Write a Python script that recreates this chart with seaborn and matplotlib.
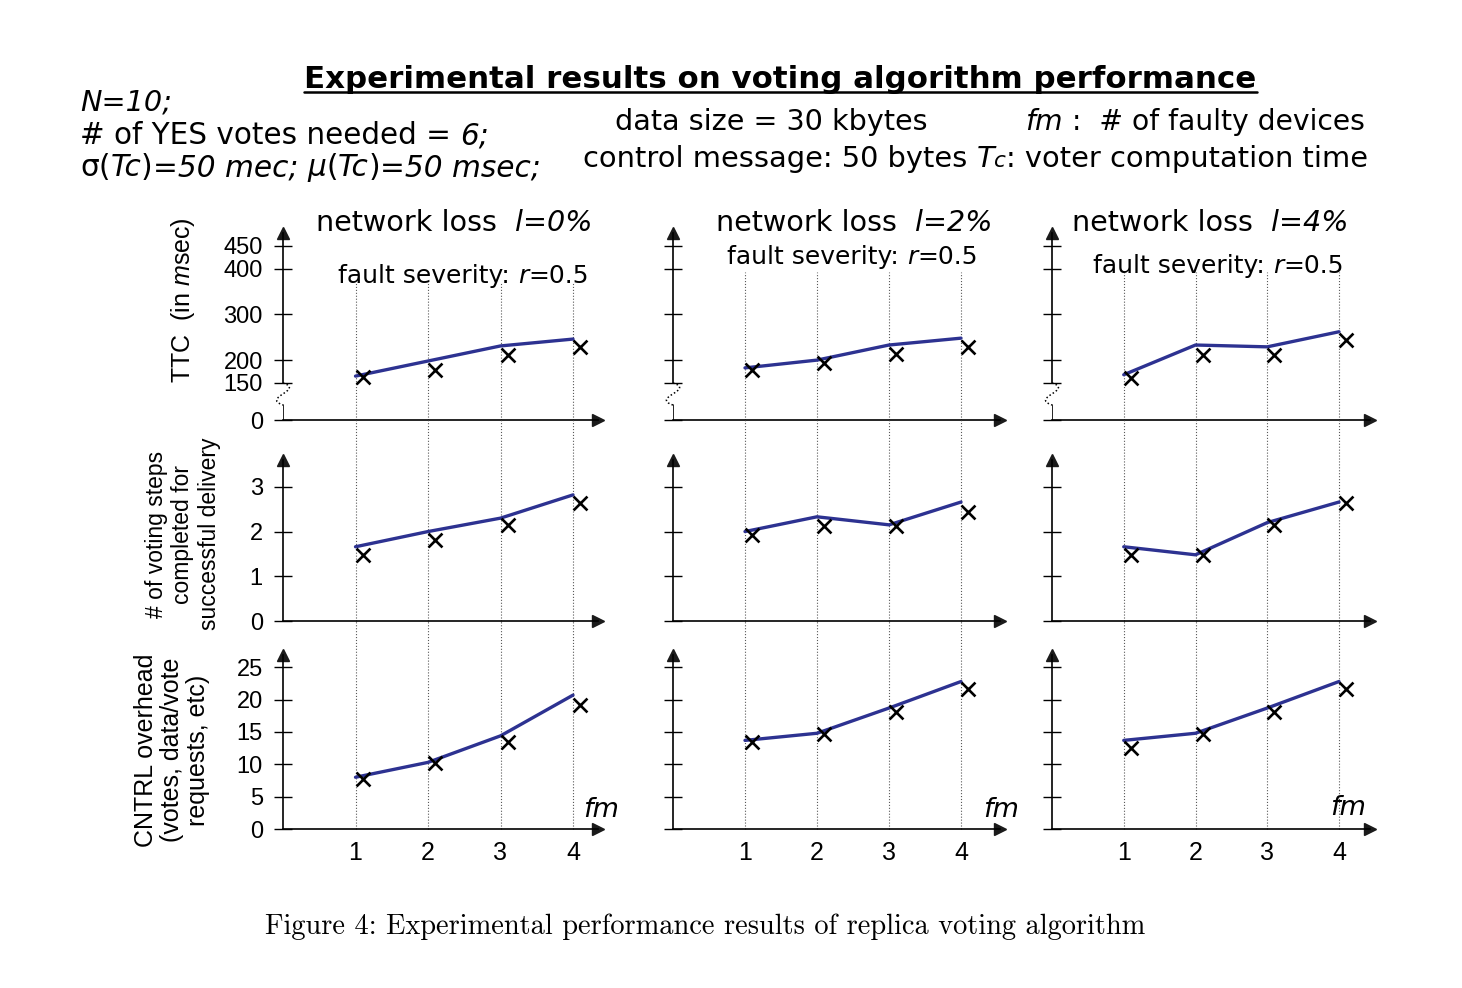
import matplotlib
matplotlib.use('Agg')
import matplotlib.pyplot as plt
import seaborn as sns
from matplotlib.lines import Line2D
from matplotlib.path import Path
from matplotlib.patches import PathPatch

# ---- data ----
fm = [1, 2, 3, 4]
fm_marks = [1.1, 2.1, 3.1, 4.1]
losses = ['0%', '2%', '4%']

# TTC (msec): smooth curve values and 'x' measurements, per network loss
ttc_curve_l0 = [165, 198, 231, 246]
ttc_curve_l2 = [183, 200, 233, 248]
ttc_curve_l4 = [168, 233, 229, 262]
ttc_x_l0 = [163, 178, 211, 229]
ttc_x_l2 = [178, 194, 213, 229]
ttc_x_l4 = [161, 211, 211, 244]

# voting steps completed
steps_curve_l0 = [1.66, 2.0, 2.3, 2.82]
steps_curve_l2 = [2.0, 2.33, 2.15, 2.66]
steps_curve_l4 = [1.66, 1.48, 2.2, 2.66]
steps_x_l0 = [1.48, 1.81, 2.15, 2.64]
steps_x_l2 = [1.93, 2.13, 2.13, 2.44]
steps_x_l4 = [1.48, 1.48, 2.15, 2.64]

# control overhead
cntrl_curve_l0 = [8.0, 10.3, 14.4, 20.7]
cntrl_curve_l2 = [13.7, 14.8, 18.7, 22.8]
cntrl_curve_l4 = [13.7, 14.8, 18.7, 22.8]
cntrl_x_l0 = [7.7, 10.2, 13.4, 19.1]
cntrl_x_l2 = [13.4, 14.7, 18.1, 21.6]
cntrl_x_l4 = [12.5, 14.7, 18.1, 21.6]

ttc_ticks = [150, 200, 300, 400, 450]
steps_ticks = [0, 1, 2, 3]
cntrl_ticks = [0, 5, 10, 15, 20, 25]

rows = [
    dict(curves=[ttc_curve_l0, ttc_curve_l2, ttc_curve_l4],
         marks=[ttc_x_l0, ttc_x_l2, ttc_x_l4], ticks=ttc_ticks),
    dict(curves=[steps_curve_l0, steps_curve_l2, steps_curve_l4],
         marks=[steps_x_l0, steps_x_l2, steps_x_l4], ticks=steps_ticks),
    dict(curves=[cntrl_curve_l0, cntrl_curve_l2, cntrl_curve_l4],
         marks=[cntrl_x_l0, cntrl_x_l2, cntrl_x_l4], ticks=cntrl_ticks),
]

# ---- style ----
sns.set_theme(style='white')
plt.rcParams['font.family'] = ['Liberation Sans', 'DejaVu Sans']
plt.rcParams['mathtext.fontset'] = 'custom'
plt.rcParams['mathtext.rm'] = 'Liberation Sans'
plt.rcParams['mathtext.it'] = 'Liberation Sans:italic'
for key in ['text.color', 'axes.labelcolor', 'xtick.color', 'ytick.color']:
    plt.rcParams[key] = 'black'

NAVY = '#2d3291'
HEAD_FONT = 'DejaVu Sans'
W, H = 1462, 988
fig = plt.figure(figsize=(W / 100, H / 100), dpi=100)
renderer = fig.canvas.get_renderer()


def fx(x):
    return x / W


def fy(y):
    return 1 - y / H


def text_w(s, **kw):
    t = fig.text(0, 0, s, **kw)
    w = t.get_window_extent(renderer).width
    t.remove()
    return w


def _draw(x, y, parts, size, family, weight):
    cx = x
    out = []
    for part in parts:
        s, style = part[0], part[1]
        sz = size * (part[2] if len(part) > 2 else 1)
        kw = dict(fontsize=sz, style=style, family=family, weight=weight)
        sp = text_w('x x', **kw) - text_w('xx', **kw)
        lead = len(s) - len(s.lstrip(' '))
        trail = len(s) - len(s.rstrip(' '))
        cx += lead * sp
        core = s.strip(' ')
        if core:
            t = fig.text(fx(cx), fy(y), core, va='baseline', ha='left', **kw)
            out.append(t)
            cx += t.get_window_extent(renderer).width
        cx += trail * sp
    return out, cx - x


def put(x, y, parts, target, family=HEAD_FONT, weight='normal'):
    """Mixed-style text, left edge x, baseline y (px from top), scaled to span `target` px."""
    texts, w = _draw(x, y, parts, 18, family, weight)
    for t in texts:
        t.remove()
    texts, w = _draw(x, y, parts, 18 * target / w, family, weight)
    return texts


# ---- axes layout (reference pixels) ----
col_left = [283, 673, 1052]
col_right = [598, 1000, 1370]
col_unit = [72.5, 72, 71.75]
row_top = [233, 460, 655]
row_bot = [420, 621, 829]
row_ylim = [(69, 478), (0, 3.6), (0, 26.9)]
grid_top = [[0.733, 0.79, 0.79], [1.248] * 3, [1.195] * 3]

for r, row in enumerate(rows):
    for c in range(3):
        ax = fig.add_axes([fx(col_left[c]), fy(row_bot[r]),
                           fx(col_right[c] - col_left[c]),
                           (row_bot[r] - row_top[r]) / H])
        ax.set_xlim(0, (col_right[c] - col_left[c]) / col_unit[c])
        ax.set_ylim(*row_ylim[r])
        ax.patch.set_alpha(0)

        for x in fm:
            ax.axvline(x, ymin=0, ymax=grid_top[r][c], ls=':', color='0.35',
                       lw=0.8, clip_on=False, zorder=0)

        sns.lineplot(x=fm, y=row['curves'][c], ax=ax, color=NAVY, linewidth=2.4)
        sns.scatterplot(x=fm_marks, y=row['marks'][c], ax=ax, marker='x', s=100,
                        color='black', linewidth=1.9, zorder=5)

        for side in ['top', 'right']:
            ax.spines[side].set_visible(False)
        for side in ['left', 'bottom']:
            ax.spines[side].set_color('black')
            ax.spines[side].set_linewidth(1.2)
        ax.plot(1, 0, '>k', ms=9, transform=ax.transAxes, clip_on=False)
        ax.plot(0, 1, '^k', ms=9, transform=ax.transAxes, clip_on=False)

        if r == 0:
            # broken axis between 150 and 0
            ax.spines['left'].set_bounds(150, row_ylim[0][1])
            ax.axvline(0, ymin=0, ymax=0.08, color='black', lw=1.2)
            verts = [(0, 0.198), (0.07, 0.16), (-0.07, 0.12), (0, 0.08)]
            ax.add_patch(PathPatch(Path(verts, [Path.MOVETO, Path.CURVE4, Path.CURVE4, Path.CURVE4]),
                                   transform=ax.transAxes, fill=False, edgecolor='black',
                                   ls=(0, (1, 1.5)), lw=1.1, clip_on=False))
            ax.set_yticks([row_ylim[0][0]] + row['ticks'])
            ax.set_yticklabels(['0'] + [str(t) for t in row['ticks']])
        else:
            ax.set_yticks(row['ticks'])
            ax.set_yticklabels([str(t) for t in row['ticks']])

        ax.tick_params(axis='y', direction='inout', length=13, width=1, color='black',
                       labelsize=17, pad=8, labelleft=(c == 0), left=True)
        if r == 2:
            ax.set_xticks(fm)
            ax.set_xticklabels([str(v) for v in fm])
            ax.tick_params(axis='x', length=0, labelsize=18, pad=9, bottom=True)
        else:
            ax.set_xticks([])
        ax.set_xlabel('')
        ax.set_ylabel('')

# ---- titles / annotations ----
put(304, 88, [('Experimental results on voting algorithm performance', 'normal')], 953,
    weight='bold')
fig.add_artist(Line2D([fx(304), fx(1257)], [fy(92.5)] * 2, color='black', lw=1.8))

put(80, 111, [('N=10;', 'italic')], 92)
put(80, 144, [('# of YES votes needed = ', 'normal'), ('6;', 'italic')], 410)
put(80, 176, [('σ', 'normal'), ('(', 'normal'), ('Tc', 'italic'), (')', 'normal'),
              ('=50 mec; ', 'italic'), ('μ', 'italic'), ('(', 'normal'), ('Tc', 'italic'),
              (')', 'normal'), ('=50 msec;', 'italic')], 460)

put(615, 130, [('data size = 30 kbytes', 'normal')], 313)
put(1025, 130, [('fm', 'italic'), (' :  # of faulty devices', 'normal')], 340)
put(583, 167, [('control message: 50 bytes ', 'normal'), ('T', 'italic'), ('c', 'italic', 0.75),
               (': voter computation time', 'normal')], 783)

head_x = [316, 716, 1072]
sev_pos = [(338, 283), (727, 264), (1093, 273)]
fm_pos = [(583, 817), (983, 817), (1330, 815)]
for c in range(3):
    put(head_x[c], 231, [('network loss  ', 'normal'), ('l=' + losses[c], 'italic')], 277)
    put(sev_pos[c][0], sev_pos[c][1], [('fault severity: ', 'normal'), ('r', 'italic'),
                                       ('=0.5', 'normal')], 251)
    put(fm_pos[c][0], fm_pos[c][1], [('fm', 'italic')], 36)

fig.text(fx(183), fy(300), r'TTC  (in $\mathit{m}$sec)', rotation=90, fontsize=18,
         ha='center', va='center')
fig.text(fx(183), fy(534), '# of voting steps\ncompleted for\nsuccessful delivery',
         rotation=90, fontsize=16.5, ha='center', va='center', linespacing=1.2)
fig.text(fx(172), fy(750), 'CNTRL overhead\n(votes, data/vote\nrequests, etc)',
         rotation=90, fontsize=18, ha='center', va='center', linespacing=1.1)

put(265, 934, [('Figure 4: Experimental performance results of replica voting algorithm',
                'normal')], 882, family='cmr10')

fig.savefig('out.png', dpi=100, facecolor='white')
